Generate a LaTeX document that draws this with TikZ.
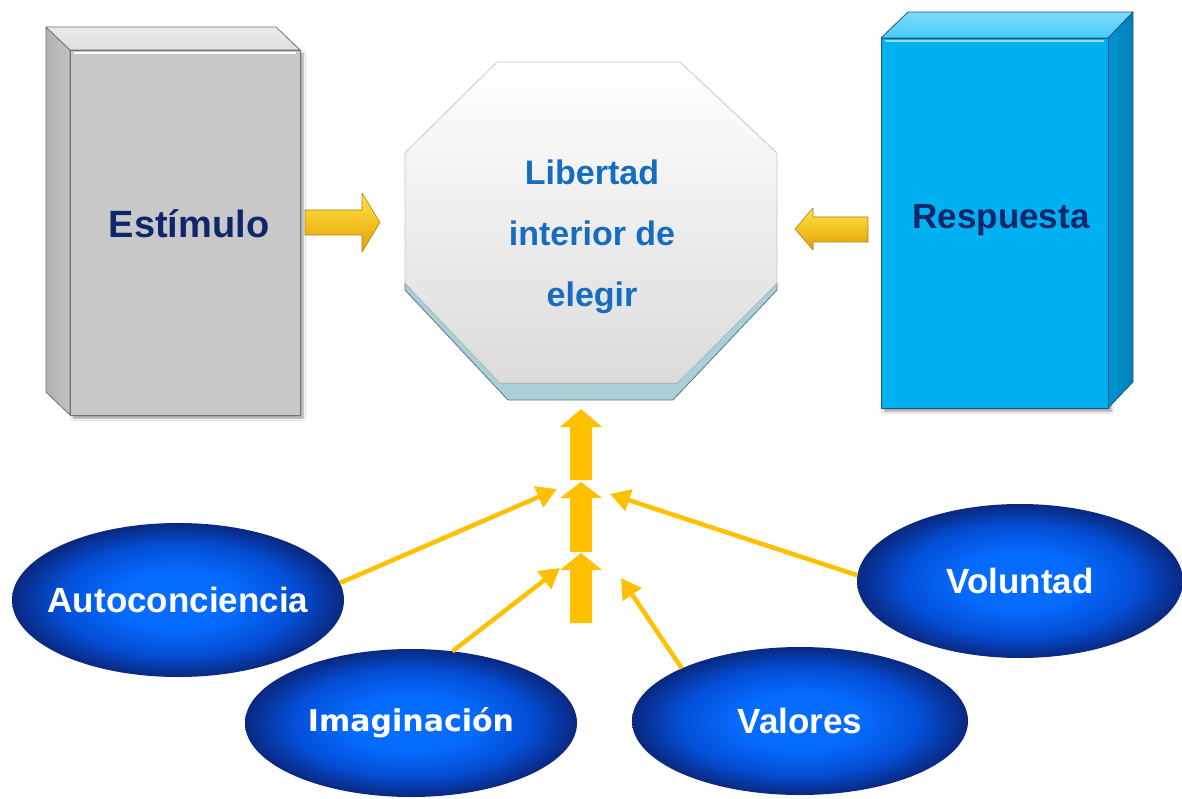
\documentclass[tikz,border=0pt]{standalone}
\usepackage{fontspec}
\setmainfont{Liberation Sans}
\newfontfamily\dejavu{DejaVu Sans}
\usetikzlibrary{arrows.meta,shapes.geometric,shadows.blur}
\definecolor{gold}{RGB}{255,192,0}
\definecolor{goldlight}{RGB}{255,228,70}
\definecolor{golddark}{RGB}{228,160,0}
\definecolor{goldline}{RGB}{170,130,20}
\definecolor{navytext}{RGB}{14,38,108}
\definecolor{octtext}{RGB}{22,108,192}
\definecolor{ellin}{RGB}{5,108,255}
\definecolor{ellmid}{RGB}{4,78,214}
\definecolor{ellout}{RGB}{10,40,128}
\definecolor{grayfront}{RGB}{200,200,200}
\definecolor{graytop}{RGB}{222,222,222}
\definecolor{grayside}{RGB}{178,178,178}
\definecolor{grayline}{RGB}{115,115,115}
\definecolor{cyanfront}{RGB}{0,176,240}
\definecolor{cyantop}{RGB}{70,204,248}
\definecolor{cyanside}{RGB}{0,150,212}
\definecolor{cyanline}{RGB}{30,90,125}
\definecolor{bevel}{RGB}{168,208,214}
\definecolor{bevelline}{RGB}{95,120,130}
\pgfdeclareradialshading{ellshade}{\pgfpoint{0bp}{0bp}}{%
  color(0bp)=(ellin); color(9bp)=(ellin); color(18bp)=(ellmid); color(25bp)=(ellout); color(50bp)=(ellout)}
\tikzset{
  boxtxt/.style={font=\bfseries\fontsize{38}{44}\selectfont, text=navytext, inner sep=0pt},
  octtxt/.style={font=\bfseries\fontsize{34}{61}\selectfont, text=octtext, align=center, inner sep=0pt},
  ell/.style={ellipse, shading=ellshade, outer sep=0pt, inner ysep=0pt, inner xsep=-20pt,
    text=white, font=\bfseries\fontsize{35}{40}\selectfont},
  blockarrow/.style={top color=goldlight, bottom color=golddark, draw=goldline, line width=0.6pt, line join=round},
  vblock/.style={fill=gold},
  conn/.style={draw=gold, line width=4.5pt, -{Triangle[length=20pt,width=22pt]}},
}
\begin{document}
\begin{tikzpicture}[x=1pt,y=-1pt]
\useasboundingbox (0,0) rectangle (1182,799);
\fill[white] (0,0) rectangle (1182,799);

% ---- Estimulo box
\fill[black!25, blur shadow={shadow xshift=3pt, shadow yshift=-3pt, shadow blur steps=6}] (70,50) rectangle (300,415);
\path[left color=grayside, right color=grayside!80!white, draw=grayline, line width=0.8pt, line join=round]
  (46,27) -- (70,50) -- (70,415) -- (46,392) -- cycle;
\path[top color=graytop!60!white, bottom color=graytop, draw=grayline, line width=0.8pt, line join=round]
  (46,27) -- (276,27) -- (300,50) -- (70,50) -- cycle;
\path[fill=grayfront, draw=grayline, line width=0.8pt] (70,50) rectangle (300,415);
\draw[white, line width=1.5pt] (74,53) -- (296,53);
\node[boxtxt] (est) at (189,224) {Estímulo};

% ---- Respuesta box
\fill[black!25, blur shadow={shadow xshift=3pt, shadow yshift=-3pt, shadow blur steps=6}] (881,38) rectangle (1108,408);
\path[left color=cyanside, right color=cyanside!85!black, draw=cyanline, line width=0.8pt, line join=round]
  (1108,38) -- (1133,12) -- (1133,382) -- (1108,408) -- cycle;
\path[top color=cyantop!70!white, bottom color=cyantop, draw=cyanline, line width=0.8pt, line join=round]
  (881,38) -- (908,12) -- (1133,12) -- (1108,38) -- cycle;
\path[fill=cyanfront, draw=cyanline, line width=0.8pt] (881,38) rectangle (1108,408);
\draw[cyantop!60!white, line width=1.5pt] (885,41) -- (1104,41);
\node[boxtxt, font=\bfseries\fontsize{35}{40}\selectfont] (res) at (1001,220) {Respuesta};

% ---- Octagon
\path[fill=bevel, draw=bevelline, line width=0.8pt, line join=round]
  (405,283) -- (405,290) -- (508,400) -- (673,400) -- (777,290) -- (777,283) -- (677,383) -- (500,383) -- cycle;
\path[top color=white, bottom color=black!14, draw=black!22, line width=0.8pt, line join=round]
  (497,62) -- (680,62) -- (777,153) -- (777,283) -- (677,383) -- (500,383) -- (405,283) -- (405,153) -- cycle;
\node[octtxt] (oct) at (592,237) {Libertad\\interior de\\elegir};

% ---- horizontal block arrows
\path[blockarrow] (305,210) -- (362,210) -- (362,193) -- (380,222.5) -- (362,252) -- (362,235) -- (305,235) -- cycle;
\path[blockarrow] (868,217) -- (813,217) -- (813,208) -- (795,229) -- (813,250) -- (813,242) -- (868,242) -- cycle;

% ---- vertical arrows
\fill[vblock] (570,480) -- (570,427) -- (560,427) -- (581,409) -- (602,427) -- (592,427) -- (592,480) -- cycle;
\fill[vblock] (570,552) -- (570,498) -- (560,498) -- (581,482) -- (602,498) -- (592,498) -- (592,552) -- cycle;
\fill[vblock] (570,623) -- (570,570) -- (560,570) -- (581,553) -- (602,570) -- (592,570) -- (592,623) -- cycle;

% ---- ellipses
\node[ell, minimum width=332pt, minimum height=154pt] (auto) at (178,600) {Autoconciencia};
\node[ell, minimum width=332pt, minimum height=148pt, font=\dejavu\bfseries\fontsize{30}{36}\selectfont] (ima) at (411,723) {Imaginación};
\node[ell, minimum width=336pt, minimum height=148pt] (val) at (800,721) {Valores};
\node[ell, minimum width=326pt, minimum height=154pt] (vol) at (1020,581) {Voluntad};

% ---- connectors
\coordinate (tA) at (557,489);
\coordinate (tV) at (610,494);
\coordinate (tI) at (560,568);
\coordinate (tL) at (621,578);
\draw[conn] (auto.6) -- (tA);
\draw[conn] (vol.178) -- (tV);
\draw[conn] (ima.60) -- (tI);
\draw[conn] (val.156) -- (tL);
\end{tikzpicture}
\end{document}
